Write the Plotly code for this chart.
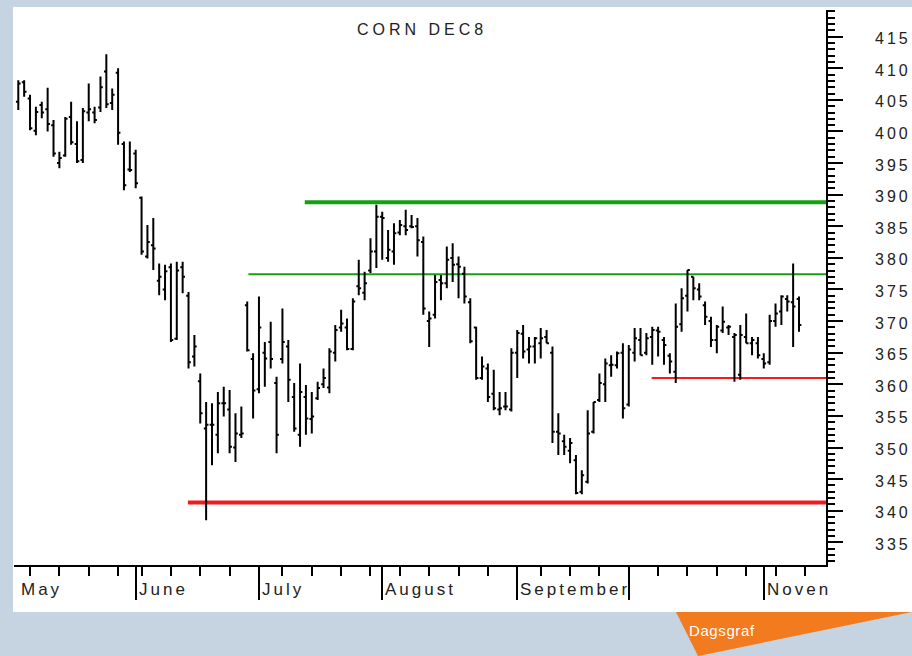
import pandas as pd
import plotly.graph_objects as go

# trading calendar (Dec corn, daily bars)
holidays = ["2018-05-28", "2018-07-04", "2018-09-03"]
days = pd.bdate_range("2018-05-03", "2018-11-16", freq="C", holidays=holidays)

opens = [404.7, 407.8, 405.2, 400.1, 404.2, 403.5, 401.0, 395.0, 396.2, 402.3,
         398.0, 395.5, 403.0, 403.0, 403.8, 409.5, 404.5, 409.3, 398.0, 394.0,
         396.5, 389.5, 380.2, 382.0, 376.4, 375.0, 378.5, 367.2, 378.5, 374.0,
         364.4, 360.5, 353.0, 353.6, 352.0, 357.0, 356.0, 350.0, 352.0, 372.5,
         364.0, 359.2, 365.0, 366.7, 360.2, 364.0, 366.0, 358.0, 352.0, 358.0,
         354.5, 357.8, 360.0, 359.5, 365.0, 369.0, 369.0, 365.6, 375.5, 374.5,
         378.0, 381.0, 386.5, 380.0, 381.0, 384.0, 385.0, 385.0, 385.0, 382.5,
         370.0, 371.0, 376.5, 376.0, 380.0, 379.0, 377.5, 373.0, 369.0, 361.0,
         362.5, 358.5, 356.0, 356.5, 356.0, 365.0, 368.0, 365.5, 366.0, 366.5,
         367.5, 365.0, 352.5, 351.0, 349.5, 348.0, 343.0, 344.6, 352.5, 357.5,
         360.0, 363.0, 363.0, 365.0, 356.8, 365.0, 367.0, 365.0, 367.5, 368.5,
         367.0, 364.5, 362.0, 369.5, 374.0, 377.0, 375.0, 372.5, 370.0, 367.0,
         368.5, 369.0, 367.5, 361.5, 367.5, 366.5, 366.5, 364.0, 363.5, 370.0,
         371.5, 373.5, 373.0, 373.5]

highs = [408.1, 408.1, 405.8, 403.9, 404.7, 406.9, 401.8, 396.8, 402.3, 404.7,
         401.6, 403.7, 407.6, 403.9, 408.7, 412.2, 406.8, 410.0, 398.4, 398.4,
         397.1, 389.7, 385.2, 386.3, 379.1, 378.9, 379.1, 379.4, 379.4, 374.6,
         367.8, 361.7, 357.2, 357.0, 358.8, 359.6, 359.1, 355.4, 356.5, 373.1,
         364.9, 373.9, 366.7, 369.9, 361.2, 372.0, 367.0, 360.2, 363.3, 359.9,
         358.8, 360.4, 362.5, 365.7, 369.4, 371.8, 370.4, 373.6, 379.7, 377.8,
         383.1, 388.4, 387.3, 384.4, 385.5, 386.0, 387.6, 386.8, 386.3, 383.4,
         371.5, 377.3, 377.3, 381.8, 382.3, 380.2, 378.6, 373.6, 369.1, 364.4,
         363.3, 362.3, 358.8, 358.8, 365.7, 368.6, 369.4, 367.5, 367.5, 368.9,
         368.6, 366.0, 355.4, 352.0, 351.5, 348.8, 346.4, 355.9, 357.2, 361.7,
         364.1, 364.6, 365.2, 366.5, 366.2, 368.9, 368.9, 368.1, 369.1, 369.1,
         367.5, 364.9, 372.8, 375.2, 378.1, 377.0, 376.0, 373.1, 370.7, 369.4,
         372.3, 369.4, 368.1, 369.4, 371.2, 367.5, 367.5, 364.9, 371.0, 372.8,
         374.1, 374.1, 379.1, 373.9]

lows = [403.4, 405.5, 400.2, 399.4, 402.1, 400.0, 396.0, 394.2, 396.0, 397.9,
        395.0, 395.0, 401.6, 401.3, 403.1, 403.7, 403.4, 397.9, 390.7, 393.6,
        391.0, 380.5, 379.9, 378.1, 374.1, 373.3, 366.7, 367.0, 374.4, 362.5,
        362.8, 353.8, 338.5, 347.2, 349.1, 354.9, 349.1, 347.7, 351.5, 365.2,
        354.6, 358.6, 359.6, 362.5, 349.1, 363.3, 357.2, 352.5, 350.1, 352.0,
        352.2, 357.5, 359.4, 358.6, 363.6, 368.3, 365.4, 365.4, 374.1, 373.3,
        377.6, 378.4, 379.7, 379.4, 378.9, 383.6, 383.6, 384.7, 380.2, 371.0,
        365.9, 370.4, 373.3, 375.2, 376.2, 373.6, 372.8, 366.5, 360.7, 360.7,
        357.2, 355.9, 355.1, 355.9, 355.7, 361.0, 364.1, 363.3, 363.3, 364.1,
        366.5, 350.7, 348.8, 348.8, 347.5, 342.6, 342.6, 344.3, 352.2, 357.2,
        357.2, 361.2, 362.5, 354.6, 356.5, 363.6, 364.6, 364.6, 363.1, 364.4,
        363.1, 361.7, 360.2, 368.3, 371.5, 373.3, 373.3, 369.4, 365.9, 364.9,
        368.1, 367.8, 360.4, 360.7, 366.5, 364.6, 364.1, 362.5, 363.1, 369.1,
        369.4, 371.5, 365.9, 368.3]

closes = [407.6, 406.3, 400.5, 403.1, 403.0, 401.2, 396.5, 395.8, 402.0, 398.3,
          395.3, 403.2, 403.5, 401.8, 407.0, 404.3, 405.8, 399.8, 391.5, 393.9,
          391.8, 381.0, 382.5, 381.5, 377.0, 377.9, 367.0, 378.0, 377.0, 363.5,
          366.0, 355.4, 353.6, 353.6, 357.0, 357.0, 350.1, 352.2, 352.2, 365.4,
          359.0, 369.0, 364.1, 364.0, 352.0, 366.7, 360.7, 353.0, 358.8, 354.6,
          354.9, 359.4, 361.0, 365.2, 368.6, 369.6, 365.6, 373.1, 375.2, 376.0,
          381.0, 386.5, 386.3, 381.3, 383.9, 385.2, 384.4, 384.9, 382.8, 372.0,
          370.4, 376.2, 376.0, 379.7, 378.9, 378.6, 373.9, 366.8, 361.0, 362.8,
          358.0, 356.2, 356.2, 356.5, 365.0, 368.1, 365.2, 366.0, 367.3, 367.3,
          366.5, 352.5, 352.2, 350.1, 350.7, 342.8, 345.6, 352.2, 357.2, 360.2,
          363.3, 363.1, 364.9, 356.2, 365.5, 367.3, 364.6, 367.3, 368.6, 368.3,
          366.2, 363.6, 369.1, 373.6, 378.1, 375.2, 373.9, 370.7, 367.0, 369.1,
          369.9, 369.1, 367.8, 367.8, 366.5, 367.0, 364.6, 363.3, 370.0, 371.2,
          373.9, 373.1, 372.3, 369.4]

month_names = ["May", "June", "July", "August", "September", "", "Noven"]
price_ticks = [335, 340, 345, 350, 355, 360, 365, 370, 375, 380, 385, 390, 395, 400, 405, 410, 415]

# support / resistance lines: level, first bar, colour, width
levels = [388.8, 377.4, 361.0, 341.3]
level_from = [48.8, 39.2, 107.9, 28.9]
level_colors = ["#14a014", "#14a014", "#f21a1a", "#f21a1a"]
level_widths = [4, 2, 2, 4]

x = list(range(len(opens)))
x_range = [-0.73, 137.6]

month_idx = [0] + [i for i in range(1, len(days)) if days[i].month != days[i - 1].month]
week_idx = [i for i in range(1, len(days)) if days[i].weekday() < days[i - 1].weekday()]

BG = "#c6d3e0"
FONT = "Arial, Liberation Sans, sans-serif"


def spaced(t, ls=3):
    return '<span style="letter-spacing:%spx">%s</span>' % (ls, t)


fig = go.Figure(go.Ohlc(
    x=x, open=opens, high=highs, low=lows, close=closes,
    increasing=dict(line=dict(color="black", width=2)),
    decreasing=dict(line=dict(color="black", width=2)),
    tickwidth=0.4, hoverinfo="skip", showlegend=False,
))

shapes = [dict(type="rect", xref="paper", yref="paper",
               x0=-1 / 812, x1=898 / 812, y0=-47 / 555, y1=1 + 3 / 555,
               fillcolor="white", line=dict(width=0), layer="below")]
for lv, x0, c, w in zip(levels, level_from, level_colors, level_widths):
    shapes.append(dict(type="line", xref="x", yref="y", x0=x0, x1=x_range[1], y0=lv, y1=lv,
                       line=dict(color=c, width=w), layer="below"))
# orange "Dagsgraf" tab
shapes.append(dict(type="path", xref="paper", yref="paper",
                   path="M 0.8153,-0.0847 L 1.1059,-0.0847 L 0.8424,-0.1640 Z",
                   fillcolor="#f27a1f", line=dict(width=0), layer="above"))

annotations = [dict(text=spaced("CORN DEC8", 4), xref="paper", yref="paper", x=0.5025, y=0.964,
                    xanchor="center", yanchor="middle", showarrow=False,
                    font=dict(family=FONT, size=16, color="#222"))]
for name, idx in zip(month_names, month_idx):
    if not name:
        continue
    annotations.append(dict(text=spaced(name, 3), xref="x", yref="paper",
                            x=max(idx, x_range[0]), y=-0.045, xanchor="left", yanchor="middle",
                            xshift=1, showarrow=False,
                            font=dict(family=FONT, size=17, color="#222")))
# price labels, right of the axis
for v in price_ticks:
    annotations.append(dict(text=spaced(v, 3), xref="paper", yref="y",
                            x=1.0579, y=v, xanchor="left", yanchor="middle", yshift=-2,
                            showarrow=False, font=dict(family=FONT, size=16, color="#222")))
annotations.append(dict(text=spaced("Dagsgraf", 0.6), xref="paper", yref="paper",
                        x=0.829, y=-0.118, xanchor="left", yanchor="middle", showarrow=False,
                        font=dict(family=FONT, size=15, color="white")))

fig.update_layout(
    width=912, height=656,
    margin=dict(l=14, r=86, t=10, b=91),
    paper_bgcolor=BG, plot_bgcolor="white",
    shapes=shapes, annotations=annotations,
    xaxis=dict(range=x_range, rangeslider=dict(visible=False), showgrid=False, zeroline=False,
               automargin=False, showline=True, linecolor="black", linewidth=2,
               tickmode="array", tickvals=month_idx[1:], showticklabels=False,
               ticks="outside", ticklen=33, tickwidth=1.5, tickcolor="black",
               minor=dict(tickmode="array", tickvals=week_idx, ticks="outside", ticklen=9,
                          tickwidth=1.5, tickcolor="black", showgrid=False)),
    yaxis=dict(side="right", range=[331.41, 419.22], showgrid=False, zeroline=False,
               automargin=False, showline=True, linecolor="black", linewidth=2,
               tickmode="array", tickvals=price_ticks, showticklabels=False,
               ticks="outside", ticklen=15, tickwidth=1.5, tickcolor="black",
               minor=dict(dtick=1, ticks="outside", ticklen=7, tickwidth=1.5,
                          tickcolor="black", showgrid=False)),
)

fig.write_html("out.html", config={"displayModeBar": False},
               post_script="document.body.style.margin = '0';")
